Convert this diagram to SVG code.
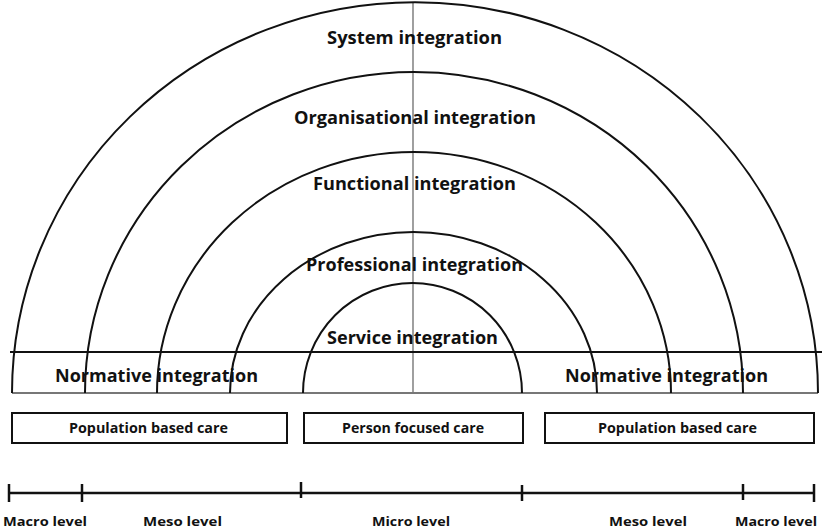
<svg xmlns="http://www.w3.org/2000/svg" width="822" height="531" viewBox="0 0 822 531">
<style>
.arc{fill:none;stroke:#111;stroke-width:2}
.t{font-family:"Open Sans","Liberation Sans",sans-serif;font-weight:bold;fill:#111;text-anchor:middle}
.big{font-size:18px}
.sm{font-size:13.5px}
.lv{font-size:13px}
.box{fill:#fff;stroke:#111;stroke-width:2}
</style>
<rect width="822" height="531" fill="#fff"/>
<g id="connectors">
<line x1="413" y1="2" x2="413" y2="393" stroke="#888" stroke-width="1.6"/>
<line x1="10" y1="352" x2="822" y2="352" stroke="#111" stroke-width="2"/>
<line x1="12" y1="393" x2="818" y2="393" stroke="#777" stroke-width="2"/>
</g>
<g id="system">
<path class="arc" d="M12 393 A403 391 0 0 1 818 393"/>
<text class="t big" x="414.5" y="44" textLength="175" lengthAdjust="spacingAndGlyphs">System integration</text>
</g>
<g id="organisational">
<path class="arc" d="M85 393 A329 321 0 0 1 743 393"/>
<text class="t big" x="415" y="124" textLength="242" lengthAdjust="spacingAndGlyphs">Organisational integration</text>
</g>
<g id="functional">
<path class="arc" d="M157 393 A257 241 0 0 1 671 393"/>
<text class="t big" x="414.5" y="190" textLength="203" lengthAdjust="spacingAndGlyphs">Functional integration</text>
</g>
<g id="professional">
<path class="arc" d="M230 393 A183.5 161 0 0 1 597 393"/>
<text class="t big" x="414.5" y="271" textLength="217" lengthAdjust="spacingAndGlyphs">Professional integration</text>
</g>
<g id="service">
<path class="arc" d="M303 393 A109.5 110 0 0 1 522 393"/>
<text class="t big" x="412.5" y="344" textLength="171" lengthAdjust="spacingAndGlyphs">Service integration</text>
</g>
<g id="normative-left">
<text class="t big" x="156.5" y="382" textLength="203" lengthAdjust="spacingAndGlyphs">Normative integration</text>
</g>
<g id="normative-right">
<text class="t big" x="666.5" y="382" textLength="203" lengthAdjust="spacingAndGlyphs">Normative integration</text>
</g>
<g id="population-left">
<rect class="box" x="12" y="413" width="275" height="30"/>
<text class="t sm" x="148.5" y="433" textLength="159" lengthAdjust="spacingAndGlyphs">Population based care</text>
</g>
<g id="person">
<rect class="box" x="304" y="413" width="219" height="30"/>
<text class="t sm" x="413" y="433" textLength="142" lengthAdjust="spacingAndGlyphs">Person focused care</text>
</g>
<g id="population-right">
<rect class="box" x="545" y="413" width="269" height="30"/>
<text class="t sm" x="677.5" y="433" textLength="159" lengthAdjust="spacingAndGlyphs">Population based care</text>
</g>
<g id="scale">
<line x1="8" y1="493" x2="814" y2="493" stroke="#111" stroke-width="2.5"/>
<g stroke="#111" stroke-width="2.5">
<line x1="9" y1="484" x2="9" y2="502"/>
<line x1="82" y1="484" x2="82" y2="502"/>
<line x1="301" y1="482" x2="301" y2="498"/>
<line x1="522" y1="485" x2="522" y2="501"/>
<line x1="743" y1="484" x2="743" y2="500"/>
<line x1="814" y1="484" x2="814" y2="502"/>
</g>
<text class="t lv" x="45" y="526" textLength="84" lengthAdjust="spacingAndGlyphs">Macro level</text>
<text class="t lv" x="182.5" y="526" textLength="79" lengthAdjust="spacingAndGlyphs">Meso level</text>
<text class="t lv" x="411" y="526" textLength="78" lengthAdjust="spacingAndGlyphs">Micro level</text>
<text class="t lv" x="648" y="526" textLength="78" lengthAdjust="spacingAndGlyphs">Meso level</text>
<text class="t lv" x="776" y="526" textLength="82" lengthAdjust="spacingAndGlyphs">Macro level</text>
</g>
</svg>
